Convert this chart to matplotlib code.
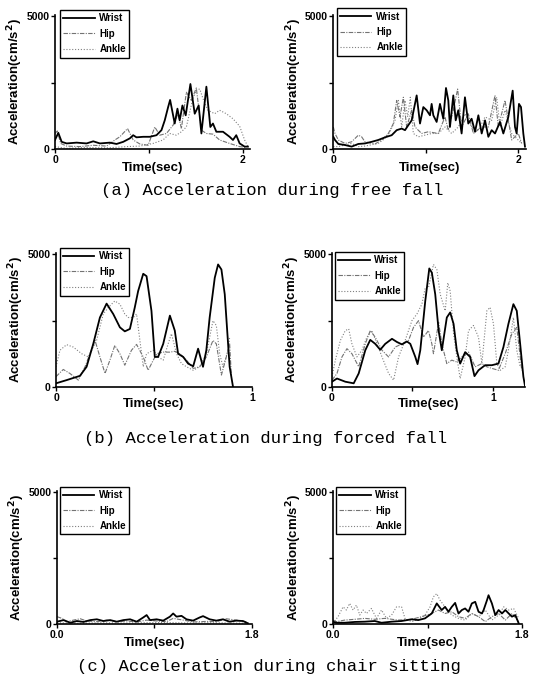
#%%
# --> Import libraries
import matplotlib
matplotlib.use('Agg')
import matplotlib.pyplot as plt


#%%
# --> Data (time in sec, acceleration in cm/s^2)

# (a) free fall, trial 1
a1_wrist_t = [0, .035, .071, .124, .23, .336, .407, .478, .584, .655, .726, .796, .832, .867, .938, 1.009,
              1.08, 1.133, 1.168, 1.204, 1.225, 1.274, 1.303, 1.327, 1.356, 1.391, 1.441, 1.487, 1.529, 1.558,
              1.611, 1.653, 1.681, 1.717, 1.788, 1.858, 1.894, 1.929, 1.965, 2.018, 2.053]
a1_wrist_v = [340, 610, 270, 210, 240, 210, 290, 210, 240, 190, 270, 400, 520, 440, 460, 460,
              520, 710, 1080, 1580, 1850, 960, 1520, 1080, 1640, 1270, 2450, 1330, 1640, 585,
              2350, 830, 960, 650, 650, 460, 340, 520, 210, 90, 90]
a1_hip_t = [0, .025, .06, .124, .265, .407, .549, .637, .69, .772, .832, .903, .991, 1.062, 1.115, 1.186,
            1.257, 1.31, 1.345, 1.398, 1.451, 1.504, 1.558, 1.611, 1.681, 1.752, 1.858, 1.965, 2.035]
a1_hip_v = [585, 680, 210, 110, 90, 140, 110, 340, 460, 770, 340, 190, 140, 830, 520, 585,
            900, 1330, 770, 2140, 1830, 2300, 710, 585, 560, 340, 210, 90, 60]
a1_ankle_t = [0, .124, .336, .549, .761, .903, 1.044, 1.15, 1.221, 1.292, 1.345, 1.398, 1.462, 1.504,
              1.54, 1.582, 1.628, 1.699, 1.752, 1.823, 1.894, 1.965, 2.018, 2.053]
a1_ankle_v = [90, 25, 60, 40, 90, 110, 210, 340, 585, 520, 650, 830, 1830, 2230,
              2260, 1830, 1460, 1330, 1460, 1330, 1140, 860, 340, 90]

# (a) free fall, trial 2
a2_wrist_t = [0, .018, .054, .126, .198, .27, .342, .414, .486, .559, .631, .685, .739, .775, .811, .847,
              .901, .937, .973, 1.009, 1.045, 1.063, 1.081, 1.117, 1.153, 1.189, 1.218, 1.243, 1.261, 1.297,
              1.323, 1.351, 1.387, 1.423, 1.459, 1.495, 1.532, 1.568, 1.604, 1.64, 1.676, 1.712, 1.748,
              1.802, 1.838, 1.892, 1.939, 1.964, 1.982, 2.007, 2.029, 2.054, 2.072]
a2_wrist_v = [460, 340, 190, 150, 90, 190, 210, 270, 340, 440, 520, 710, 770, 710, 900, 1080,
              2020, 960, 1580, 1460, 1270, 1700, 1270, 1020, 1700, 1140, 2300, 1830, 830, 2020,
              1080, 1460, 585, 1950, 960, 1140, 650, 1270, 585, 1080, 460, 710, 585,
              1020, 585, 1210, 2200, 830, 585, 1700, 1580, 585, 90]
a2_hip_t = [0, .018, .054, .126, .198, .27, .306, .342, .45, .523, .595, .649, .685, .721, .757, .793,
            .847, .883, .955, 1.027, 1.135, 1.207, 1.243, 1.297, 1.344, 1.387, 1.459, 1.514, 1.604,
            1.676, 1.748, 1.784, 1.856, 1.928, 2.0, 2.036]
a2_hip_v = [830, 585, 340, 210, 270, 520, 460, 270, 190, 340, 585, 960, 1830, 1210, 1950, 830,
            1460, 830, 585, 650, 585, 1210, 710, 1460, 2260, 830, 1330, 585, 830,
            830, 2020, 830, 1830, 340, 585, 210]
a2_ankle_t = [0, .054, .198, .27, .342, .486, .559, .613, .667, .703, .739, .775, .804, .832, .865, .919,
              1.063, 1.135, 1.207, 1.279, 1.351, 1.423, 1.495, 1.568, 1.64, 1.712, 1.766, 1.802, 1.856,
              1.928, 2.036]
a2_ankle_v = [90, 90, 210, 90, 110, 210, 400, 650, 1080, 1830, 830, 1830, 1210, 1950, 585, 460,
              585, 585, 830, 585, 830, 1330, 830, 710, 1210, 1080, 1950, 830, 1460,
              585, 210]

# (b) forced fall, trial 1
b1_wrist_t = [0, .054, .122, .156, .19, .224, .258, .292, .326, .351, .377, .402, .419, .445, .462, .487,
              .504, .521, .547, .581, .606, .623, .649, .674, .7, .725, .75, .767, .784, .81, .827, .844,
              .861, .878, .886, .903]
b1_wrist_v = [150, 270, 430, 770, 1630, 2620, 3140, 2750, 2250, 2100, 2190, 3000, 3610, 4260, 4170, 2870,
              1140, 1140, 1630, 2690, 2130, 1260, 1140, 890, 790, 1450, 770, 1390, 2620, 4110, 4610, 4420,
              3490, 1630, 770, 25]
b1_hip_t = [0, .037, .071, .114, .148, .173, .199, .224, .25, .275, .3, .326, .351, .385, .411, .445, .47,
            .513, .547, .581, .606, .632, .666, .7, .733, .767, .801, .818, .844, .869, .886, .895]
b1_hip_v = [400, 670, 520, 270, 770, 1260, 1760, 1140, 520, 1020, 1570, 1260, 830, 1390, 1610, 1140, 640,
            1260, 1320, 1320, 1350, 1260, 1020, 710, 770, 1140, 1760, 1630, 460, 1140, 1630, 400]
b1_ankle_t = [0, .02, .054, .088, .131, .165, .207, .241, .267, .3, .326, .351, .368, .394, .411, .428,
              .445, .462, .496, .521, .547, .572, .589, .615, .64, .666, .7, .733, .767, .801, .818, .835,
              .852, .878, .886]
b1_ankle_v = [770, 1390, 1600, 1510, 1260, 1140, 1760, 2750, 3000, 3240, 3120, 2750, 2620, 2620, 2750, 1760,
              770, 1260, 1390, 1140, 1020, 1630, 2010, 1260, 890, 770, 640, 770, 1260, 2500, 2320, 1260,
              770, 1390, 1880]

# (b) forced fall, trial 2
b2_wrist_t = [0, .031, .083, .135, .166, .207, .238, .269, .3, .331, .373, .404, .435, .466, .487, .518,
              .532, .549, .58, .605, .621, .642, .663, .683, .714, .735, .756, .776, .797, .828, .859, .886,
              .911, .952, .994, 1.035, 1.066, 1.097, 1.128, 1.149, 1.17, 1.19, 1.201]
b2_wrist_v = [210, 330, 210, 150, 520, 1390, 1780, 1630, 1410, 1630, 1820, 1700, 1610, 1720, 1630, 1140,
              870, 1390, 3240, 4460, 4300, 3490, 2130, 1390, 2620, 2810, 2380, 1390, 890, 1320, 1140, 420,
              640, 830, 830, 890, 1510, 2380, 3120, 2870, 1630, 400, 25]
b2_hip_t = [0, .031, .062, .093, .124, .166, .207, .238, .269, .311, .352, .393, .435, .476, .507, .538,
            .569, .6, .621, .631, .663, .683, .714, .745, .776, .807, .849, .89, .932, .963, .994, 1.035,
            1.077, 1.118, 1.149, 1.18]
b2_hip_v = [270, 520, 1140, 1450, 1260, 770, 1630, 2130, 1880, 1390, 1140, 1510, 1630, 1760, 2250, 2500,
            1880, 2130, 1630, 1260, 2440, 1630, 890, 1020, 950, 1140, 1320, 770, 890, 770, 710, 640,
            1260, 2000, 2250, 640]
b2_ankle_t = [0, .021, .052, .083, .104, .124, .155, .186, .217, .248, .28, .311, .352, .383, .414, .455,
              .497, .528, .559, .58, .6, .631, .652, .673, .704, .72, .735, .756, .776, .797, .828, .849,
              .88, .911, .932, .963, .983, 1.004, 1.025, 1.046, 1.077, 1.097, 1.128, 1.149, 1.17]
b2_ankle_v = [400, 1020, 1760, 2130, 2190, 1630, 1140, 1390, 1880, 2130, 1630, 1140, 520, 270, 1140, 1760,
              2500, 2750, 3120, 3740, 3740, 4610, 4420, 3490, 2870, 3920, 3610, 2010, 1140, 330, 1140, 2130,
              2320, 1880, 890, 2870, 3000, 2380, 890, 640, 770, 1390, 2620, 1390, 770]

# (c) chair sitting, trial 1
c1_wrist_t = [0, .061, .123, .184, .245, .307, .368, .429, .491, .552, .613, .675, .736, .797, .828, .859,
              .92, .981, 1.043, 1.073, 1.104, 1.15, 1.196, 1.257, 1.318, 1.349, 1.41, 1.472, 1.533, 1.594,
              1.656, 1.717, 1.763]
c1_wrist_v = [100, 160, 60, 125, 90, 160, 190, 125, 160, 100, 160, 190, 100, 260, 350, 160,
              190, 140, 290, 410, 290, 320, 190, 140, 260, 310, 190, 140, 190, 100,
              140, 125, 40]
c1_hip_t = [0, .046, .092, .153, .215, .276, .368, .46, .552, .644, .736, .828, .92, 1.012, 1.073, 1.165,
            1.257, 1.38, 1.472, 1.564, 1.656, 1.748]
c1_hip_v = [290, 225, 100, 160, 210, 125, 100, 160, 100, 125, 90, 160, 125, 100, 225, 160,
            90, 110, 100, 210, 160, 100]
c1_ankle_t = [0, .2, .4, .6, .8, 1.0, 1.2, 1.4, 1.6, 1.76]
c1_ankle_v = [60, 40, 60, 50, 60, 70, 50, 60, 50, 40]

# (c) chair sitting, trial 2
c2_wrist_t = [0, .032, .112, .207, .303, .398, .462, .558, .653, .749, .812, .876, .94, .988, 1.035, 1.067,
              1.099, 1.131, 1.163, 1.195, 1.227, 1.258, 1.29, 1.322, 1.354, 1.386, 1.418, 1.434, 1.466,
              1.481, 1.513, 1.545, 1.577, 1.609, 1.641, 1.673, 1.704, 1.736, 1.768]
c2_wrist_v = [100, 60, 60, 90, 100, 125, 60, 100, 125, 190, 160, 225, 410, 790, 540, 660,
              475, 660, 810, 410, 540, 600, 475, 790, 850, 475, 410, 540, 910,
              1100, 790, 350, 540, 410, 540, 410, 290, 350, 40]
c2_hip_t = [0, .032, .112, .207, .303, .398, .494, .621, .749, .844, .94, 1.004, 1.067, 1.131, 1.195, 1.258,
            1.322, 1.386, 1.45, 1.513, 1.577, 1.641, 1.704, 1.768]
c2_hip_v = [160, 100, 160, 190, 225, 190, 225, 160, 190, 290, 410, 540, 410, 475, 290, 225,
            410, 290, 100, 290, 410, 160, 410, 100]
c2_ankle_t = [0, .048, .096, .127, .159, .191, .223, .255, .287, .319, .366, .414, .462, .51, .558, .605,
              .653, .685, .749, .812, .876, .924, .956, .988, 1.019, 1.067, 1.131, 1.195, 1.258, 1.322,
              1.386, 1.45, 1.513, 1.577, 1.625, 1.673, 1.72, 1.768]
c2_ankle_v = [40, 290, 660, 540, 790, 540, 725, 350, 540, 410, 600, 225, 540, 225, 350, 660,
              660, 225, 100, 190, 350, 660, 1040, 1160, 910, 660, 350, 225, 160, 410,
              290, 540, 160, 350, 660, 540, 600, 225]

captions = ['(a) Acceleration during free fall',
            '(b) Acceleration during forced fall',
            '(c) Acceleration during chair sitting']


#%%
# --> Styles
plt.rcParams['font.family'] = ['Liberation Sans', 'DejaVu Sans']
WRIST = dict(color='black', lw=1.3, ls='-')
HIP = dict(color='0.45', lw=0.8, ls=(0, (4, 1.2, 1, 1.2)))
ANKLE = dict(color='0.5', lw=0.8, ls=(0, (1, 1.6)))


def draw_panel(rect, wrist, hip, ankle, xmax, xticks, xticklabels, legend_xy, xlabel_y):
    ax = fig.add_axes(rect)
    ax.plot(*ankle, label='Ankle', **ANKLE)
    ax.plot(*hip, label='Hip', **HIP)
    ax.plot(*wrist, label='Wrist', **WRIST)
    ax.set_xlim(0, xmax)
    ax.set_ylim(0, 5050)
    ax.set_yticks([0, 2500, 5000], ['0', '', '5000'])
    ax.set_xticks(xticks, xticklabels)
    for side in ['top', 'right']:
        ax.spines[side].set_visible(False)
    for side in ['left', 'bottom']:
        ax.spines[side].set_linewidth(1.2)
    ax.tick_params(direction='out', length=3, width=1, pad=1)
    for lab in ax.get_xticklabels() + ax.get_yticklabels():
        lab.set_fontsize(7.5)
        lab.set_fontweight('bold')
    ax.set_ylabel('Acceleration(cm/s$^\\mathbf{2}$)', fontsize=9.5, fontweight='bold')
    ax.yaxis.set_label_coords(-0.155, 0.5)
    ax.set_xlabel('Time(sec)', fontsize=9.5, fontweight='bold', va='top')
    ax.xaxis.set_label_coords(0.5, xlabel_y)
    h, l = ax.get_legend_handles_labels()
    leg = ax.legend(h[::-1], l[::-1], loc='upper left', bbox_to_anchor=legend_xy,
                    prop=dict(size=7, weight='bold'), frameon=True, fancybox=False,
                    edgecolor='black', framealpha=1, handlelength=3.2, handletextpad=0.5,
                    borderpad=0.35, labelspacing=0.55, borderaxespad=0)
    leg.get_frame().set_linewidth(1.0)
    return ax


#%%
# --> Figure
fig = plt.figure(figsize=(5.34, 6.86), dpi=100)

draw_panel([0.103, 0.7828, 0.366, 0.1953], (a1_wrist_t, a1_wrist_v), (a1_hip_t, a1_hip_v),
           (a1_ankle_t, a1_ankle_v), 2.08, [0, 1, 2], ['0', '', '2'], (0.026, 1.037), -0.097)
draw_panel([0.6242, 0.7828, 0.3603, 0.1953], (a2_wrist_t, a2_wrist_v), (a2_hip_t, a2_hip_v),
           (a2_ankle_t, a2_ankle_v), 2.08, [0, 1, 2], ['0', '', '2'], (0.019, 1.05), -0.097)
draw_panel([0.1049, 0.4354, 0.367, 0.1962], (b1_wrist_t, b1_wrist_v), (b1_hip_t, b1_hip_v),
           (b1_ankle_t, b1_ankle_v), 1.0, [0, 0.5, 1], ['0', '', '1'], (0.02, 1.035), -0.08)
draw_panel([0.6217, 0.4354, 0.3614, 0.1962], (b2_wrist_t, b2_wrist_v), (b2_hip_t, b2_hip_v),
           (b2_ankle_t, b2_ankle_v), 1.2, [0, 0.5, 1], ['0', '', '1'], (0.016, 1.005), -0.08)
draw_panel([0.1067, 0.0899, 0.365, 0.1948], (c1_wrist_t, c1_wrist_v), (c1_hip_t, c1_hip_v),
           (c1_ankle_t, c1_ankle_v), 1.8, [0, 0.9, 1.8], ['0.0', '', '1.8'], (0.015, 1.028), -0.095)
draw_panel([0.6236, 0.0899, 0.354, 0.1948], (c2_wrist_t, c2_wrist_v), (c2_hip_t, c2_hip_v),
           (c2_ankle_t, c2_ankle_v), 1.8, [0, 0.9, 1.8], ['0.0', '', '1.8'], (0.016, 1.028), -0.095)

for (x, y), text in zip([(0.509, 0.723), (0.498, 0.361), (0.504, 0.029)], captions):
    fig.text(x, y, text, ha='center', va='center', fontsize=12.4, family='Liberation Mono')

fig.savefig('out.png', dpi=100)
